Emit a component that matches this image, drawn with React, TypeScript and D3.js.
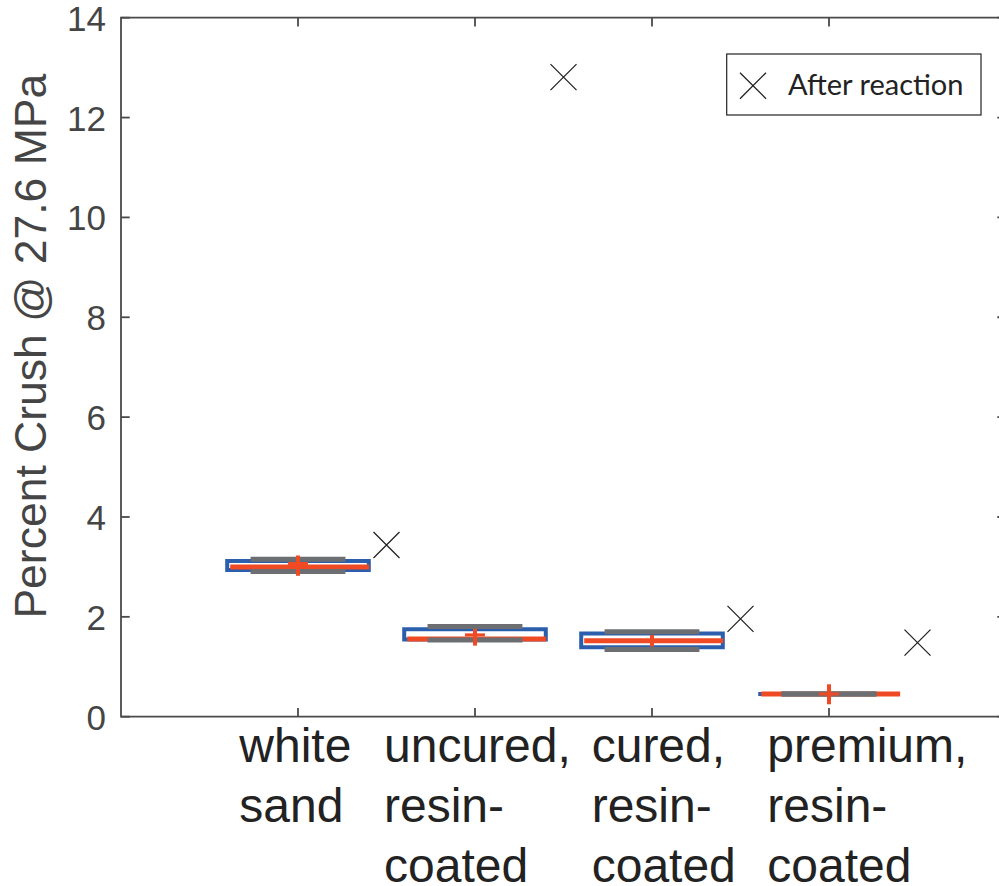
import { useEffect, useRef } from "react";
import * as d3 from "d3";

// category labels (multi-line) and box statistics
const categories = [
  "white\nsand",
  "uncured,\nresin-\ncoated",
  "cured,\nresin-\ncoated",
  "premium,\nresin-\ncoated",
];
const q1 = [2.936, 1.544, 1.392, 0.455];
const q3 = [3.117, 1.753, 1.665, 0.455];
const medians = [3.0, 1.554, 1.522, 0.455];
const capLow = [2.908, 1.534, 1.348, 0.455];
const capHigh = [3.153, 1.809, 1.699, 0.455];
const rangeLow = [2.822, 1.424, 1.404, 0.249];
const rangeHigh = [3.229, 1.759, 1.639, 0.649];
const means = [3.069, 1.639, 1.522, 0.455];

// "After reaction" markers
const afterPos = [1.5, 2.5, 3.5, 4.5];
const afterReaction = [3.438, 12.81, 1.96, 1.484];

const yTicks = [0, 2, 4, 6, 8, 10, 12, 14];

// layout
const W = 999;
const H = 886;
const labelShift = [-58.7, -91, -60.3, -61.7];
const AXIS = "#4a4a4a";
const BLUE = "#2b5fad";
const RED = "#f04a24";
const GRAY = "#6d6e71";
const SANS = "'Liberation Sans', Arial, Helvetica, sans-serif";

export default function App() {
  const svgRef = useRef<SVGSVGElement>(null);

  useEffect(() => {
    document.body.style.margin = "0";
    if (!svgRef.current) return;
    const svg = d3.select(svgRef.current);
    svg.selectAll("*").remove();

    const x = d3.scaleLinear().domain([0, 5]).range([121, 1006]);
    const y = d3.scaleLinear().domain([0, 14]).range([716.7, 17.7]);
    const [x0, x1] = x.range();
    const [yb, yt] = y.range();
    const unit = x(1) - x(0);
    const idx = d3.range(categories.length);

    // boxes
    const g = svg.append("g");
    const boxHalf = 0.4 * unit;
    g.selectAll("path.box")
      .data(idx)
      .enter()
      .append("path")
      .attr("class", "box")
      .attr("d", (i) => {
        const cx = x(i + 1);
        const top = y(q3[i]);
        const bot = y(q1[i]);
        return `M${cx - boxHalf},${top}H${cx + boxHalf}V${bot}H${cx - boxHalf}Z`;
      })
      .attr("fill", "white")
      .attr("stroke", BLUE)
      .attr("stroke-width", 4)
      .attr("stroke-linejoin", "miter");

    // medians
    g.selectAll("line.median")
      .data(idx)
      .enter()
      .append("line")
      .attr("x1", (i) => x(i + 1) - 0.383 * unit)
      .attr("x2", (i) => x(i + 1) + 0.402 * unit)
      .attr("y1", (i) => y(medians[i]))
      .attr("y2", (i) => y(medians[i]))
      .attr("stroke", RED)
      .attr("stroke-width", 5);

    // adjacent value caps
    const capHalf = 0.268 * unit;
    [capLow, capHigh].forEach((arr) => {
      g.selectAll(null)
        .data(idx)
        .enter()
        .append("line")
        .attr("x1", (i) => x(i + 1) - capHalf)
        .attr("x2", (i) => x(i + 1) + capHalf)
        .attr("y1", (i) => y(arr[i]))
        .attr("y2", (i) => y(arr[i]))
        .attr("stroke", GRAY)
        .attr("stroke-width", 5);
    });

    // red range line and mean tick
    g.selectAll(null)
      .data(idx)
      .enter()
      .append("line")
      .attr("x1", (i) => x(i + 1))
      .attr("x2", (i) => x(i + 1))
      .attr("y1", (i) => y(rangeLow[i]))
      .attr("y2", (i) => y(rangeHigh[i]))
      .attr("stroke", RED)
      .attr("stroke-width", 4);
    g.selectAll(null)
      .data(idx)
      .enter()
      .append("line")
      .attr("x1", (i) => x(i + 1) - 10)
      .attr("x2", (i) => x(i + 1) + 10)
      .attr("y1", (i) => y(means[i]))
      .attr("y2", (i) => y(means[i]))
      .attr("stroke", RED)
      .attr("stroke-width", 3);

    // after-reaction crosses
    const cross = (cx: number, cy: number, r: number) =>
      `M${cx - r},${cy - r}L${cx + r},${cy + r}M${cx - r},${cy + r}L${cx + r},${cy - r}`;
    g.selectAll(null)
      .data(afterReaction)
      .enter()
      .append("path")
      .attr("d", (v, i) => cross(x(afterPos[i]), y(v), 13))
      .attr("stroke", "#222")
      .attr("stroke-width", 1.3)
      .attr("fill", "none");

    // axes frame
    const ax = svg.append("g").attr("stroke", AXIS).attr("stroke-width", 1.8);
    ax.append("path")
      .attr("d", `M${x0},${yt}H${x1}V${yb}H${x0}Z`)
      .attr("fill", "none");
    const tl = 8.7;
    yTicks.forEach((t) => {
      ax.append("line").attr("x1", x0).attr("x2", x0 + tl).attr("y1", y(t)).attr("y2", y(t));
      ax.append("line").attr("x1", x1).attr("x2", x1 - tl).attr("y1", y(t)).attr("y2", y(t));
    });
    idx.forEach((i) => {
      ax.append("line").attr("x1", x(i + 1)).attr("x2", x(i + 1)).attr("y1", yb).attr("y2", yb - tl);
      ax.append("line").attr("x1", x(i + 1)).attr("x2", x(i + 1)).attr("y1", yt).attr("y2", yt + tl);
    });

    // y tick labels
    svg.append("g")
      .selectAll("text")
      .data(yTicks)
      .enter()
      .append("text")
      .attr("x", x0 - 15)
      .attr("y", (t) => y(t) + 13)
      .attr("text-anchor", "end")
      .attr("font-family", SANS)
      .attr("font-size", 35)
      .attr("fill", "#454545")
      .text((t) => t);

    // x tick labels
    idx.forEach((i) => {
      const lines = categories[i].split("\n");
      const t = svg.append("text")
        .attr("font-family", SANS)
        .attr("font-size", 48)
        .attr("fill", "#222");
      lines.forEach((ln, k) => {
        t.append("tspan")
          .attr("x", x(i + 1) + labelShift[i])
          .attr("y", 761.7 + k * 60)
          .text(ln);
      });
    });

    // y label
    svg.append("text")
      .attr("transform", `translate(46,${(yb + yt) / 2 - 21}) rotate(-90)`)
      .attr("text-anchor", "middle")
      .attr("font-family", SANS)
      .attr("font-size", 44.5)
      .attr("fill", "#454545")
      .text("Percent Crush @ 27.6 MPa");

    // legend
    const lg = svg.append("g");
    lg.append("rect")
      .attr("x", 726.7)
      .attr("y", 54)
      .attr("width", 254.3)
      .attr("height", 61)
      .attr("fill", "white")
      .attr("stroke", "#222")
      .attr("stroke-width", 1.2);
    lg.append("path")
      .attr("d", cross(753, 85.7, 13))
      .attr("stroke", "#222")
      .attr("stroke-width", 1.3);
    lg.append("text")
      .attr("x", 788)
      .attr("y", 95)
      .attr("font-family", "Lato, 'Open Sans', sans-serif")
      .attr("font-size", 29)
      .attr("fill", "#222")
      .text("After reaction");
  }, []);

  return <svg ref={svgRef} width={W} height={H} style={{ display: "block" }} />;
}
